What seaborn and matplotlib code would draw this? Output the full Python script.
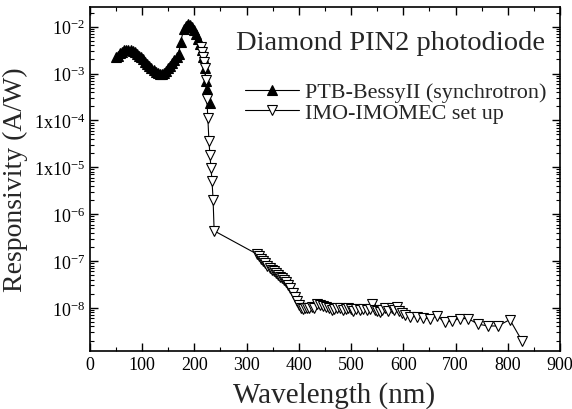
import numpy as np
import pandas as pd
import matplotlib
matplotlib.use("Agg")
import matplotlib.pyplot as plt
import seaborn as sns
from matplotlib.ticker import FixedLocator, FixedFormatter, LogLocator, MultipleLocator, NullFormatter

# PTB-BessyII (synchrotron) data
ptb_wl = [50, 54, 58, 62, 66, 70, 74, 78, 82, 86, 90, 94, 98, 102, 106, 110, 114, 118,
          122, 126, 130, 134, 138, 142, 146, 150, 154, 158, 162, 166, 170, 174, 180, 184,
          188, 192, 196, 200, 204, 208, 211, 214, 217, 220, 222, 224, 230]
ptb_r = [2.2e-3, 2.4e-3, 2.7e-3, 2.9e-3, 3.1e-3, 3.2e-3, 3.25e-3, 3.2e-3, 3.05e-3, 2.85e-3,
         2.6e-3, 2.4e-3, 2.2e-3, 2.0e-3, 1.8e-3, 1.6e-3, 1.45e-3, 1.3e-3, 1.18e-3, 1.08e-3,
         1.02e-3, 0.98e-3, 1.0e-3, 1.05e-3, 1.15e-3, 1.3e-3, 1.45e-3, 1.65e-3, 1.9e-3,
         2.2e-3, 2.6e-3, 4.8e-3, 9e-3, 1.05e-2, 1.15e-2, 1.1e-2, 1.0e-2, 8.5e-3, 7e-3,
         5.5e-3, 4.3e-3, 3.2e-3, 2.2e-3, 1.3e-3, 7e-4, 4.7e-4, 2.3e-4]

# IMO-IMOMEC set up data
imo_wl = [212, 214, 216, 218, 220, 222, 224, 226, 228, 230, 232, 234, 236, 238,
          320, 324, 328, 332, 336, 340, 344, 348, 352, 356, 360, 364, 368, 372, 376,
          380, 384, 388, 392, 396, 400, 404, 408, 412, 416, 420, 425, 430, 435, 440,
          446, 452, 458, 463, 468, 473, 479, 485, 490, 494, 500, 504, 510, 517, 522,
          530, 536, 540, 546, 550, 555, 560, 565, 570, 578, 583, 588, 592, 597, 603,
          613, 626, 637, 651, 664, 680, 693, 709, 724, 743, 762, 781, 804, 827]
imo_r = [3.7e-3, 2.9e-3, 2.3e-3, 1.8e-3, 1.3e-3, 7.1e-4, 2.9e-4, 1.1e-4, 3.7e-5, 1.8e-5,
         9.6e-6, 5e-6, 2e-6, 4.4e-7,
         1.4e-7, 1.25e-7, 1.1e-7, 1.0e-7, 9e-8, 8e-8, 7.2e-8, 6.5e-8, 6e-8, 5.5e-8, 5e-8,
         4.6e-8, 4.3e-8, 4e-8, 3.6e-8, 3.1e-8, 2.6e-8, 2.1e-8, 1.7e-8, 1.4e-8, 1.15e-8,
         1.0e-8, 9.5e-9, 1.0e-8, 9.8e-9, 1.0e-8, 1.05e-8, 1.0e-8, 1.2e-8, 1.15e-8, 1.1e-8,
         1.05e-8, 9.8e-9, 8.8e-9, 9.5e-9, 1.0e-8, 1.0e-8, 8.8e-9, 9.5e-9, 1.0e-8, 9.5e-9,
         8.5e-9, 9.5e-9, 8.8e-9, 9.5e-9, 9.2e-9, 9.4e-9, 1.2e-8, 9e-9, 8.5e-9, 8.3e-9,
         9e-9, 9.8e-9, 8.5e-9, 1.0e-8, 9e-9, 1.03e-8, 8.5e-9, 7.8e-9, 7.2e-9, 6.5e-9,
         6.5e-9, 6.0e-9, 5.9e-9, 6.8e-9, 4.9e-9, 5.3e-9, 5.9e-9, 5.9e-9, 4.5e-9, 4.1e-9,
         4.1e-9, 5.6e-9, 2e-9]

ytick_vals = [1e-8, 1e-7, 1e-6, 1e-5, 1e-4, 1e-3, 1e-2]
ytick_labels = [r"$10^{-8}$", r"$10^{-7}$", r"$10^{-6}$", r"$1\mathrm{x}10^{-5}$",
                r"$1\mathrm{x}10^{-4}$", r"$10^{-3}$", r"$10^{-2}$"]

sns.set_style("ticks")
plt.rcParams["font.family"] = ["Liberation Serif", "DejaVu Serif"]
plt.rcParams["mathtext.fontset"] = "custom"
plt.rcParams["mathtext.rm"] = "Liberation Serif"
plt.rcParams["mathtext.it"] = "Liberation Serif:italic"

fig = plt.figure(figsize=(5.72, 4.10), dpi=100)
ax = fig.add_axes([0.157, 0.1415, 0.822, 0.8385])

ptb_df = pd.DataFrame({"wl": ptb_wl, "r": ptb_r})
imo_df = pd.DataFrame({"wl": imo_wl, "r": imo_r})

sns.lineplot(data=ptb_df, x="wl", y="r", ax=ax, color="black", lw=0.8,
             marker="^", markersize=7, markerfacecolor="black", markeredgecolor="black",
             markeredgewidth=0.8, estimator=None, sort=False,
             label="PTB-BessyII (synchrotron)")
sns.lineplot(data=imo_df, x="wl", y="r", ax=ax, color="black", lw=0.8,
             marker="v", markersize=7, markerfacecolor="white", markeredgecolor="black",
             markeredgewidth=0.8, estimator=None, sort=False,
             label="IMO-IMOMEC set up")

ax.set_yscale("log")
ax.set_xlim(0, 900)
ax.set_ylim(1.2e-9, 2.6e-2)
ax.xaxis.set_major_locator(MultipleLocator(100))
ax.xaxis.set_minor_locator(MultipleLocator(50))
ax.yaxis.set_major_locator(FixedLocator(ytick_vals))
ax.yaxis.set_major_formatter(FixedFormatter(ytick_labels))
ax.yaxis.set_minor_locator(LogLocator(base=10, subs=np.arange(2, 10)))
ax.yaxis.set_minor_formatter(NullFormatter())

ax.tick_params(which="both", direction="in", top=True, right=True, labelsize=13,
               colors="black")
ax.tick_params(which="major", length=6, width=1)
ax.tick_params(which="minor", length=3, width=0.8)
for s in ax.spines.values():
    s.set_linewidth(1.2)
    s.set_color("black")

ax.set_xlabel("Wavelength (nm)", fontsize=21, labelpad=6)
ax.xaxis.label.set_x(0.52)
ax.set_ylabel("Responsivity (A/W)", fontsize=20, labelpad=4)

ax.text(0.968, 0.898, "Diamond PIN2 photodiode", transform=ax.transAxes,
        ha="right", va="center", fontsize=20.5)

leg = ax.legend(loc="upper left", bbox_to_anchor=(0.33, 0.783), frameon=False,
                fontsize=15.9, handlelength=2.45, handletextpad=0.25, labelspacing=0.0,
                borderaxespad=0, borderpad=0)

fig.savefig("out.png", dpi=100)
